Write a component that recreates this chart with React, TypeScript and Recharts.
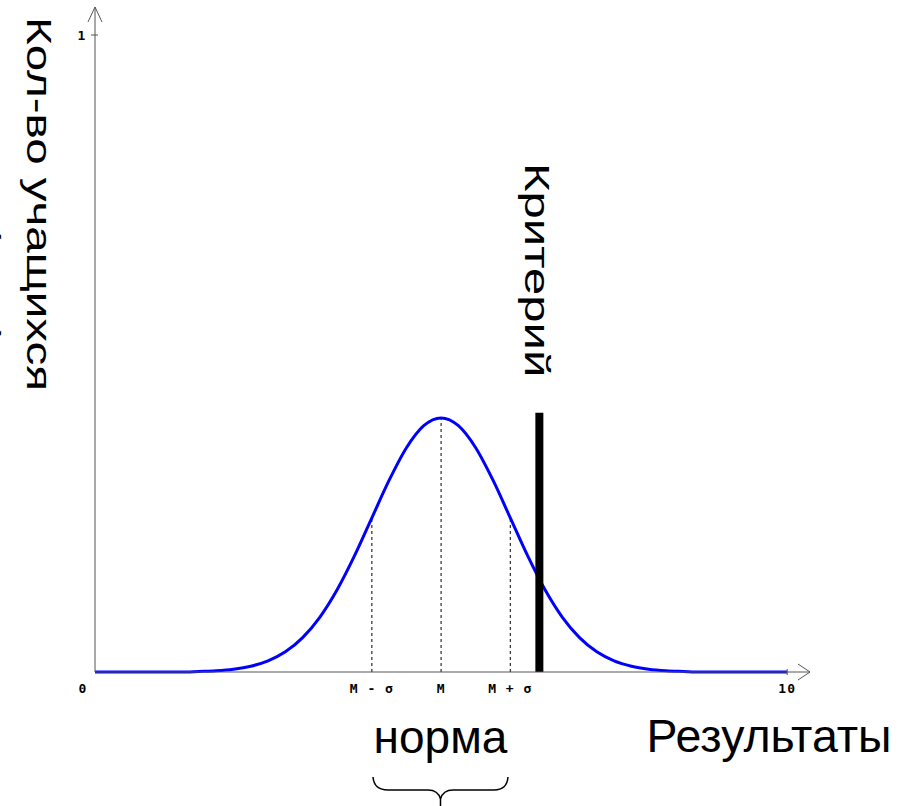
import { Line, LineChart, ReferenceDot, ReferenceLine, XAxis, YAxis } from 'recharts';

// x positions read along the "Результаты" axis (0..10)
const scores = [
  0, 0.25, 0.5, 0.75, 1, 1.25, 1.5, 1.75, 2, 2.25, 2.5, 2.75, 3, 3.25, 3.5, 3.75, 4, 4.25, 4.5, 4.75, 5,
  5.25, 5.5, 5.75, 6, 6.25, 6.5, 6.75, 7, 7.25, 7.5, 7.75, 8, 8.25, 8.5, 8.75, 9, 9.25, 9.5, 9.75, 10,
];

// curve height read at each x position
const counts = [
  0, 0, 0, 0, 0, 0, 0.0009, 0.002, 0.0044, 0.0091, 0.0175, 0.0317, 0.054, 0.0863, 0.1295, 0.1826, 0.242, 0.3011,
  0.3521, 0.3867, 0.3989, 0.3867, 0.3521, 0.3011, 0.242, 0.1826, 0.1295, 0.0863, 0.054, 0.0317, 0.0175, 0.0091,
  0.0044, 0.002, 0.0009, 0, 0, 0, 0, 0, 0,
];

const xTicks = [0, 4, 5, 6, 10];
const xTickLabels = ['0', 'M - σ', 'M', 'M + σ', '10'];
const yTicks = [1];

// dotted guides at M - σ, M, M + σ
const guideX = [4, 5, 6];
const guideTop = [0.242, 0.3989, 0.242];

const criterionX = 6.42;
const criterionTop = 0.407;

const xMax = 10.33;
const yMax = 1.044;

const data = scores.map((x, i) => ({ x, y: counts[i] }));

const AXIS = '#555';
const tickFont = { fontFamily: '"DejaVu Sans Mono", monospace', fontSize: 13, fontWeight: 700, letterSpacing: 1 };
const bigFont = '"Liberation Sans", Arial, sans-serif';

function XTick(props: any) {
  const { x, y, payload } = props;
  const idx = xTicks.indexOf(payload.value);
  const label = xTickLabels[idx] ?? String(payload.value);
  const shift = payload.value === 0 ? -12 : 0;
  return (
    <g>
      {payload.value === 10 && <line x1={x} y1={y - 3} x2={x} y2={y + 3} stroke={AXIS} />}
      <text x={x + shift} y={y + 21} textAnchor="middle" fill="#000" style={tickFont}>
        {label}
      </text>
    </g>
  );
}

function YTick(props: any) {
  const { x, y, payload } = props;
  return (
    <g>
      <line x1={x - 4} y1={y} x2={x + 3} y2={y} stroke={AXIS} />
      <text x={x - 13} y={y + 5} textAnchor="middle" fill="#000" style={tickFont}>
        {payload.value}
      </text>
    </g>
  );
}

const xArrow = (p: any) => (
  <path d={`M${p.cx - 12},${p.cy - 8} L${p.cx},${p.cy} L${p.cx - 12},${p.cy + 8}`} fill="none" stroke={AXIS} />
);
const yArrow = (p: any) => (
  <path d={`M${p.cx - 7},${p.cy + 15} L${p.cx},${p.cy} L${p.cx + 7},${p.cy + 15}`} fill="none" stroke={AXIS} />
);

export default function App() {
  return (
    <div style={{ position: 'absolute', left: 0, top: 0, width: 909, height: 806, overflow: 'hidden', background: '#fff' }}>
      <LineChart width={909} height={806} data={data} margin={{ top: 7, right: 99, bottom: 104, left: 0 }}>
        <XAxis
          dataKey="x"
          type="number"
          domain={[0, xMax]}
          ticks={xTicks}
          tick={<XTick />}
          tickLine={false}
          tickSize={0}
          tickMargin={0}
          height={30}
          axisLine={{ stroke: AXIS }}
        />
        <YAxis
          type="number"
          domain={[0, yMax]}
          ticks={yTicks}
          tick={<YTick />}
          tickLine={false}
          tickSize={0}
          tickMargin={0}
          width={95}
          axisLine={{ stroke: AXIS }}
        />
        {guideX.map((gx, i) => (
          <ReferenceLine
            key={gx}
            segment={[
              { x: gx, y: 0 },
              { x: gx, y: guideTop[i] },
            ]}
            stroke="#000"
            strokeWidth={1}
            strokeDasharray="3 3"
          />
        ))}
        <Line
          type="monotone"
          dataKey="y"
          stroke="#0000ff"
          strokeWidth={3}
          dot={false}
          activeDot={false}
          isAnimationActive={false}
        />
        <ReferenceLine
          segment={[
            { x: criterionX, y: 0 },
            { x: criterionX, y: criterionTop },
          ]}
          stroke="#000"
          strokeWidth={8}
        />
        <ReferenceDot x={xMax} y={0} r={0} shape={xArrow} ifOverflow="visible" />
        <ReferenceDot x={0} y={yMax} r={0} shape={yArrow} ifOverflow="visible" />
      </LineChart>

      <svg width={909} height={806} style={{ position: 'absolute', left: 0, top: 0, pointerEvents: 'none' }}>
        <g fontFamily={bigFont} fill="#000">
          <text fontSize={47.5} transform="translate(27,17) rotate(90) scale(1,0.74)">
            Кол-во учащихся
          </text>
          <text fontSize={47.5} transform="translate(-25,224) rotate(90) scale(1,0.74)">
            (чел.)
          </text>
          <text fontSize={49} transform="translate(525,163) rotate(90) scale(1,0.71)">
            Критерий
          </text>
          <text x={440.5} y={753} fontSize={46} textAnchor="middle">
            норма
          </text>
          <text x={769} y={752} fontSize={46.5} textAnchor="middle">
            Результаты
          </text>
        </g>
        <path
          d="M373,777 Q374,790 388,790 L428,790 Q438,790 440.5,799 Q443,790 453,790 L494,790 Q507,790 508,777 M440.5,798 L440.5,806"
          fill="none"
          stroke="#000"
          strokeWidth={1.5}
        />
      </svg>
    </div>
  );
}
